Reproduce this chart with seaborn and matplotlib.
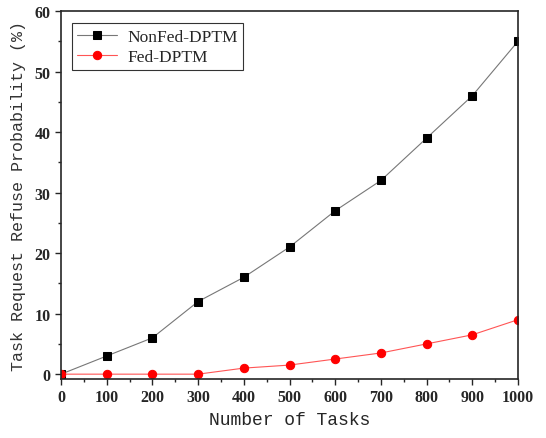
import matplotlib
matplotlib.use("Agg")
import matplotlib.pyplot as plt
import seaborn as sns
import pandas as pd
from matplotlib.ticker import MultipleLocator

tasks = [0, 100, 200, 300, 400, 500, 600, 700, 800, 900, 1000]
nonfed = [0, 3, 6, 12, 16, 21, 27, 32, 39, 46, 55]
fed = [0, 0, 0, 0, 1, 1.5, 2.5, 3.5, 5, 6.5, 9]

sns.set_style("ticks")
plt.rcParams['font.family'] = ['Liberation Serif', 'DejaVu Serif']

fig = plt.figure(figsize=(5.46, 4.39), dpi=100)
ax = fig.add_axes([61/546, 1-380/439, (518-61)/546, (380-12)/439])

df = pd.DataFrame({"tasks": tasks + tasks,
                   "val": nonfed + fed,
                   "series": ["NonFed-DPTM"] * len(tasks) + ["Fed-DPTM"] * len(tasks)})

sns.lineplot(data=df[df.series == "NonFed-DPTM"], x="tasks", y="val", ax=ax,
             color="#777777", lw=0.8, marker="s", markersize=5.5,
             markerfacecolor="black", markeredgecolor="black", label="NonFed-DPTM")
sns.lineplot(data=df[df.series == "Fed-DPTM"], x="tasks", y="val", ax=ax,
             color="#ff5555", lw=0.8, marker="o", markersize=6,
             markerfacecolor="red", markeredgecolor="red", label="Fed-DPTM")

ax.set_xlim(0, 1000)
ax.set_ylim(-0.8, 60)
ax.set_xticks(tasks)
ax.set_yticks([0, 10, 20, 30, 40, 50, 60])
ax.xaxis.set_minor_locator(MultipleLocator(50))
ax.yaxis.set_minor_locator(MultipleLocator(5))
ax.tick_params(which="major", direction="out", length=4, width=1, labelsize=11.5)
ax.tick_params(which="minor", direction="out", length=2.5, width=1)
for lab in ax.get_xticklabels() + ax.get_yticklabels():
    lab.set_fontweight("bold")
for s in ax.spines.values():
    s.set_linewidth(1.2)
    s.set_visible(True)

ax.set_xlabel("Number of Tasks", fontsize=13, family=["Liberation Mono", "DejaVu Sans Mono"], labelpad=4)
ax.set_ylabel("Task Request Refuse Probability (%)", fontsize=12,
              family=["Liberation Mono", "DejaVu Sans Mono"], labelpad=6, color="#333333")

leg = ax.legend(loc="upper left", frameon=True, fancybox=False,
                edgecolor="black", borderpad=0.3, handlelength=2.3, handletextpad=0.6,
                labelspacing=0.25, bbox_to_anchor=(0.005, 0.99),
                prop={"family": ["Liberation Serif", "DejaVu Serif"], "size": 12.5})
leg.get_frame().set_linewidth(0.8)

fig.savefig("out.png", dpi=100)
